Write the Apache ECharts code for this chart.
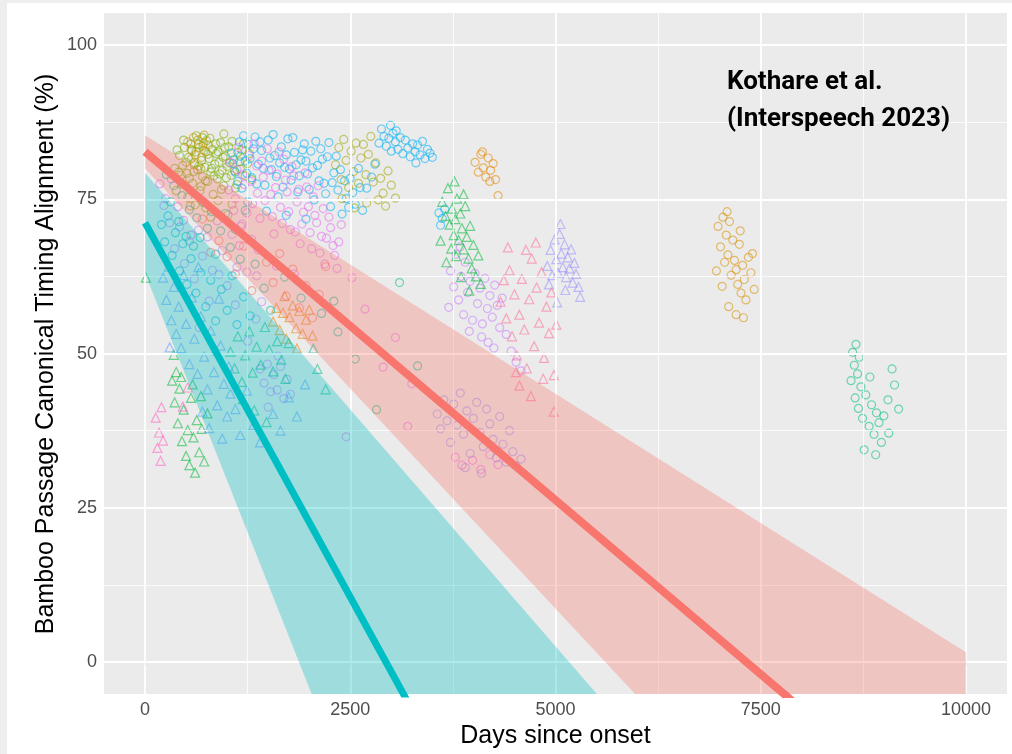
<!DOCTYPE html>
<html>
<head>
<meta charset="utf-8">
<script src="https://cdn.jsdelivr.net/npm/echarts@6/dist/echarts.min.js"></script>
<style>
  html, body { margin: 0; padding: 0; background: #fff; }
  #frame { position: absolute; left: 0; top: 0; width: 1012px; height: 754px; background: #eeeeee; }
  #chart { position: absolute; left: 7px; top: 3px; width: 1005px; height: 751px; background: #fff; }
</style>
</head>
<body>
<div id="frame"></div>
<div id="chart"></div>
<script>
// tick labels
var xTicks = [0, 2500, 5000, 7500, 10000];
var xMinor = [1250, 3750, 6250, 8750];
var yTicks = [0, 25, 50, 75, 100];
var yMinor = [12.5, 37.5, 62.5, 87.5];

// regression fits [days, %]
var redFit = [[0, 82.7], [10000, -30.2]];
var tealFit = [[0, 71.2], [6000, -74.4]];
// ribbons: [days, lower, upper]
var redRibbon = [[0, 80.0, 85.4], [10000, -62.7, 1.6]];
var tealRibbon = [[0, 63.0, 79.3], [6000, -138.6, -12.8]];

// points by speaker colour, [days since onset, alignment %]
var greenCircles = [[420,82.1],[460,80.5],[480,83.4],[510,79.2],[530,81.8],[560,84.0],[580,77.6],[600,80.9],[620,82.7],[640,79.8],[650,83.9],[670,76.4],[690,81.3],[700,78.7],[720,82.9],[730,80.2],[750,84.5],[760,77.9],[780,81.6],[800,79.4],[820,83.1],[830,75.8],[850,80.7],[870,82.4],[880,78.3],[900,81.0],[920,84.2],[940,79.7],[960,77.2],[980,82.0],[1000,80.3],[1020,83.5],[1050,78.9],[1080,81.4],[1100,76.8],[1130,82.6],[1160,79.9],[450,77.5],[520,75.3],[610,74.1],[740,73.6],[890,74.8],[1010,72.5],[360,80.0],[390,83.0],[700,85.0],[960,85.6],[1200,84.0],[1250,80.8],[1300,78.2],[440,78.9],[470,84.6],[500,81.0],[540,78.4],[570,82.9],[595,79.5],[625,85.3],[655,80.4],[680,77.1],[705,83.6],[735,78.0],[765,82.3],[790,84.9],[810,80.0],[840,78.8],[860,84.0],[890,82.7],[910,79.1],[930,76.6],[950,81.8],[970,83.4],[990,78.5],[1030,80.9],[1060,84.4],[1090,79.6],[1120,77.4],[1150,81.1],[1180,83.0],[1220,78.8],[1270,82.4],[380,76.4],[410,79.4],[550,73.9],[800,72.1],[1060,74.2]];
var goldCircles = [[520,84.3],[560,83.1],[590,85.0],[610,82.2],[640,84.6],[660,83.4],[690,81.8],[710,84.1],[740,82.7],[770,83.8],[600,80.6],[680,79.9],[560,81.5],[720,85.4]];
var skyCircles = [[1050,82.5],[1100,79.4],[1150,84.3],[1180,76.8],[1220,81.2],[1260,83.9],[1300,78.5],[1340,85.1],[1380,80.7],[1420,82.9],[1460,77.3],[1500,84.6],[1540,79.8],[1580,82.1],[1620,75.4],[1660,83.5],[1700,80.2],[1740,84.8],[1780,78.1],[1820,82.6],[1860,76.2],[1900,81.4],[1940,84.0],[1980,79.1],[2020,82.8],[2060,74.9],[2100,80.5],[2140,83.2],[2180,77.6],[2220,81.9],[2260,73.8],[2300,79.3],[2350,76.5],[2400,72.6],[2450,75.1],[2500,78.4],[2560,74.2],[2620,76.9],[1480,73.1],[1720,72.4],[1960,71.8],[1250,74.6],[2850,84.1],[2880,86.4],[2910,85.2],[2940,83.6],[2970,84.9],[3000,82.8],[3020,85.7],[3050,84.3],[3080,83.1],[3110,85.0],[3140,82.4],[3170,84.6],[3200,83.3],[3230,81.9],[3260,84.0],[3290,82.7],[3320,83.8],[3350,82.2],[3380,84.4],[3410,81.6],[3440,83.1],[3470,82.5],[3500,81.8],[2990,87.0],[3060,86.1],[3300,80.9],[2800,80.7],[2760,78.6],[2700,76.8],[3580,72.8],[3620,71.9],[3650,73.4],[3600,70.8],[1070,80.8],[1130,77.9],[1160,82.0],[1200,85.3],[1240,79.2],[1280,81.6],[1320,83.2],[1360,77.5],[1400,84.3],[1440,80.0],[1520,81.7],[1560,85.5],[1600,78.7],[1640,80.9],[1680,77.0],[1720,82.2],[1760,79.9],[1800,85.0],[1840,80.6],[1880,78.8],[1920,83.0],[1960,81.2],[2000,76.6],[2040,80.1],[2080,84.4],[2120,78.0],[2160,81.5],[2200,75.9],[2240,84.2],[2280,77.7],[2330,82.0],[2380,79.8],[2430,78.0],[2480,73.7],[2530,76.1],[2600,80.0],[2650,73.2]];
var oliveCircles = [[2320,80.6],[2360,83.4],[2390,78.2],[2420,84.7],[2450,81.3],[2480,76.9],[2510,82.8],[2540,79.5],[2570,84.1],[2600,77.6],[2630,81.7],[2660,83.9],[2690,79.0],[2720,82.3],[2750,85.2],[2780,77.8],[2810,80.9],[2840,74.9],[2870,78.4],[2900,76.0],[2930,73.9],[2960,79.6],[2400,75.1],[2550,73.6],[2700,74.4],[3000,77.3],[3050,75.2]];
var magentaCircles = [[1020,76.5],[1080,73.2],[1120,79.8],[1170,70.6],[1210,77.4],[1270,82.1],[1310,74.3],[1360,80.4],[1400,71.9],[1440,78.6],[1490,83.2],[1530,75.8],[1570,69.4],[1610,79.1],[1650,73.7],[1690,81.5],[1730,76.2],[1770,70.1],[1810,78.8],[1850,74.6],[1890,67.8],[1930,72.9],[1970,77.0],[2010,69.6],[2050,75.4],[2090,71.2],[2130,66.3],[2170,73.5],[2210,68.7],[2260,70.4],[2310,65.9],[2360,68.1],[1380,66.8],[1600,64.2],[1820,62.9],[1150,67.5],[180,77.5],[250,75.1],[320,78.3],[400,73.8],[470,71.6],[560,69.2],[3780,33.2],[3860,31.9],[3990,32.7],[4090,31.2],[4200,33.6],[4300,32.0],[2450,36.5],[2520,62.3],[2680,57.2],[2900,47.8],[3050,52.6],[3250,45.1],[3200,38.2],[1040,81.0],[1100,75.1],[1140,83.4],[1190,79.0],[1240,72.8],[1290,77.9],[1330,84.0],[1370,76.0],[1420,81.2],[1460,74.8],[1510,79.7],[1550,72.2],[1590,76.9],[1630,82.7],[1670,71.1],[1710,78.1],[1750,73.0],[1790,80.3],[1830,69.7],[1870,76.6],[1910,71.0],[1950,79.3],[1990,73.8],[2030,67.0],[2070,72.4],[2110,77.2],[2150,69.0],[2190,64.5],[2240,72.1],[2290,67.5],[2340,63.8],[2390,70.9]];
var purpleCircles = [[3720,63.4],[3760,60.8],[3790,66.1],[3820,58.7],[3850,62.5],[3880,56.3],[3900,64.8],[3930,59.9],[3960,61.7],[3990,55.4],[4020,63.0],[4050,58.1],[4080,60.6],[4110,54.8],[4140,62.2],[4170,57.3],[4200,59.4],[4230,55.9],[4260,61.1],[4290,57.8],[4320,54.2],[4350,59.0],[3840,67.3],[3950,53.6],[4100,52.7],[4180,51.8],[4250,50.9],[3700,57.5],[4400,53.1],[4460,50.4],[4520,48.6],[4580,47.2],[1400,47.5],[1450,45.2],[1490,48.3],[1530,43.8],[1570,46.6],[1610,44.1],[1650,47.9],[1690,42.7],[1730,45.8],[1770,43.4],[1500,41.3],[1620,49.6]];
var violetCircles = [[230,74.0],[300,71.2],[360,67.0],[420,70.5],[480,64.6],[540,68.2],[600,62.1],[650,70.0],[700,65.8],[760,68.9],[820,63.5],[880,71.5],[940,66.7],[1000,61.0],[1060,69.3],[1120,64.0],[1180,71.0],[1240,63.2],[1300,68.5],[1360,62.6],[1420,58.4],[1250,52.0],[1350,55.6],[1100,57.9],[900,62.8],[780,58.5],[660,54.2]];
var lavenderCircles = [[3560,40.2],[3600,37.8],[3640,42.5],[3680,39.1],[3720,35.6],[3760,41.8],[3800,38.4],[3840,43.6],[3880,36.9],[3920,40.7],[3960,33.8],[4000,39.5],[4040,42.1],[4080,37.2],[4120,34.9],[4160,41.0],[4200,38.6],[4240,36.1],[4280,33.1],[4320,39.8],[4360,35.3],[4400,32.4],[4440,37.5],[4480,34.1],[4520,31.8],[4580,32.9],[3900,31.5],[4100,30.6]];
var lavenderTriangles = [[4900,64.2],[4940,66.8],[4960,62.7],[4990,68.5],[5010,65.3],[5030,63.1],[5050,69.4],[5070,66.2],[5090,64.0],[5110,67.7],[5130,62.4],[5150,65.6],[5170,63.8],[5190,66.9],[5210,61.5],[5230,64.7],[5250,62.9],[5280,60.8],[4920,61.2],[5060,71.0],[5120,60.3],[5300,59.2],[5020,58.3]];
var greenTriangles = [[3620,74.6],[3660,72.3],[3690,76.8],[3710,70.9],[3740,73.5],[3760,69.2],[3780,71.8],[3800,75.1],[3820,68.4],[3840,72.7],[3860,70.3],[3880,66.9],[3900,73.9],[3920,68.9],[3940,65.4],[3960,70.7],[3980,63.8],[4000,67.6],[4030,62.5],[4060,65.9],[4090,61.3],[3730,67.0],[3790,65.8],[3850,62.4],[3950,60.2],[3670,64.8],[3600,68.3],[3770,77.9],[3880,75.8],[330,45.6],[360,42.1],[380,47.0],[400,38.7],[420,44.3],[450,35.8],[470,40.9],[500,33.4],[520,37.6],[540,31.9],[560,42.8],[590,36.4],[610,30.7],[630,39.2],[660,34.0],[690,37.8],[720,32.5],[350,49.8],[440,46.2],[580,45.0],[680,43.1],[760,40.3],[10,62.3]];
var pinkTriangles = [[130,39.6],[150,34.7],[170,37.2],[200,41.3],[220,35.9],[190,32.6],[520,44.5],[460,41.4]];
var roseTriangles = [[4330,58.4],[4370,61.9],[4400,55.7],[4440,63.5],[4470,52.8],[4500,59.6],[4530,49.7],[4560,56.3],[4590,62.1],[4620,53.9],[4650,47.6],[4680,58.8],[4710,65.4],[4740,51.2],[4770,60.7],[4800,55.0],[4830,63.2],[4860,49.3],[4890,57.6],[4920,53.3],[4950,59.9],[4980,46.5],[5010,54.7],[4560,44.8],[4700,43.1],[4850,45.9],[4980,40.6],[4420,67.2],[4640,66.8],[4760,68.0],[4520,47.0]];
var orangeCircles = [[4020,81.0],[4060,79.4],[4090,82.3],[4120,80.1],[4150,78.6],[4180,81.7],[4210,79.7],[4240,80.8],[4270,78.2],[4110,82.7],[4200,77.9],[4300,75.6]];
var orangeTriangles = [[1560,55.2],[1600,57.4],[1640,53.8],[1680,56.6],[1720,52.4],[1760,55.9],[1800,57.8],[1840,54.1],[1880,56.9],[1920,53.2],[1960,55.5],[2000,57.1],[2040,52.9],[1700,59.3],[1850,50.8]];
var ochreCircles = [[6980,70.6],[7010,67.3],[7040,72.1],[7060,64.8],[7080,69.2],[7100,66.0],[7120,71.4],[7140,62.7],[7160,68.4],[7180,65.1],[7200,63.6],[7220,61.2],[7240,67.7],[7260,59.8],[7280,64.3],[7300,62.0],[7320,58.7],[7350,65.6],[7380,63.1],[7420,60.4],[7030,60.9],[7110,57.6],[7200,56.3],[7290,55.8],[6960,63.4],[7090,73.0],[7400,66.2],[7250,69.9]];
var jadeCircles = [[8620,50.2],[8640,48.1],[8660,51.5],[8680,46.7],[8700,49.4],[8720,44.6],[8650,42.8],[8690,41.1],[8740,39.5],[8780,43.3],[8820,38.2],[8850,41.7],[8880,36.9],[8910,40.4],[8940,38.8],[8970,35.6],[9000,39.9],[9050,42.5],[8760,34.4],[8900,33.6],[9100,47.5],[9130,44.9],[9180,41.0],[8600,45.6],[8830,46.2],[9060,37.1],[2300,58.5],[2560,49.1],[2820,40.9],[3100,61.5],[3320,48.0]];
var tealCircles = [[260,79.0],[310,74.6],[350,77.2],[410,71.4],[450,75.6],[500,69.0],[540,73.3],[590,67.4],[630,72.0],[670,68.8],[710,74.5],[760,70.3],[810,73.0],[860,66.1],[920,69.9],[980,72.7],[1040,67.2],[1100,70.1],[1160,65.3],[1220,73.2],[1340,64.5],[1450,60.6],[1530,57.0],[1700,62.4],[1900,59.0],[2150,56.5],[2350,53.5]];
var jadeTriangles = [[1040,50.3],[1090,47.6],[1130,52.8],[1180,45.4],[1220,49.7],[1270,53.6],[1310,46.9],[1360,51.1],[1410,48.2],[1460,54.3],[1510,50.6],[1560,47.1],[1610,52.0],[1660,49.0],[1710,45.9],[1190,42.6],[1330,40.8],[1480,38.9],[1750,51.7],[2100,47.5],[2200,44.2],[2050,50.8]];
var blueTriangles = [[220,62.3],[260,58.7],[290,64.1],[320,55.4],[350,60.8],[380,53.2],[410,57.6],[440,50.9],[470,62.7],[500,54.8],[540,48.3],[570,59.1],[600,52.4],[640,46.7],[680,56.0],[720,49.5],[760,44.2],[800,53.7],[840,47.0],[880,41.6],[920,51.3],[960,45.1],[1000,39.8],[1040,43.5],[650,64.0],[900,58.9],[300,51.0],[700,40.6],[780,37.9],[860,50.5],[940,36.2],[1020,47.9],[1100,41.0],[1160,36.8],[1240,44.0],[1320,38.4],[1400,35.6],[1560,40.2],[1650,37.5],[1750,42.9],[1850,39.8],[1950,45.0]];
var cyanCircles = [[200,70.9],[240,68.1],[280,72.3],[330,65.9],[370,69.6],[420,63.4],[460,67.8],[510,61.2],[560,65.4],[620,59.8],[680,63.1],[740,57.6],[800,61.9],[860,55.3],[930,60.4],[1000,57.0],[1060,62.6],[1120,54.7],[1200,59.2],[1280,56.1]];
var salmonCircles = [[1480,64.8],[1560,61.5],[1640,66.2],[1720,59.3],[1800,63.7],[1880,57.4],[1960,61.0],[2040,55.8],[2120,59.6],[2200,64.1],[900,68.3],[1000,65.7],[1100,62.9],[1200,67.4],[1300,60.2],[700,71.8],[800,66.4]];

var groups = [
  ['#7CAE00', 'circle', greenCircles],
  ['#C99800', 'circle', goldCircles],
  ['#00B0F6', 'circle', skyCircles],
  ['#A3A500', 'circle', oliveCircles],
  ['#E76BF3', 'circle', magentaCircles],
  ['#C77CFF', 'circle', purpleCircles],
  ['#B983FF', 'circle', violetCircles],
  ['#9590FF', 'circle', lavenderCircles],
  ['#9590FF', 'triangle', lavenderTriangles],
  ['#00BA38', 'triangle', greenTriangles],
  ['#FF61C3', 'triangle', pinkTriangles],
  ['#FF6C91', 'triangle', roseTriangles],
  ['#E58700', 'circle', orangeCircles],
  ['#E58700', 'triangle', orangeTriangles],
  ['#D89000', 'circle', ochreCircles],
  ['#00BF7D', 'circle', jadeCircles],
  ['#00C1A3', 'circle', tealCircles],
  ['#00C08B', 'triangle', jadeTriangles],
  ['#619CFF', 'triangle', blueTriangles],
  ['#00BCD8', 'circle', cyanCircles],
  ['#F8766D', 'circle', salmonCircles]
];

var chart = echarts.init(document.getElementById('chart'));

function gridLines(axis, vals, width) {
  return vals.map(function (v) {
    var o = {lineStyle: {width: width}};
    o[axis] = v;
    return o;
  });
}

function ribbon(rows, color) {
  return {
    type: 'custom',
    clip: true,
    z: 5,
    silent: true,
    data: [0],
    renderItem: function (params, api) {
      var top = rows.map(function (r) { return api.coord([r[0], r[2]]); });
      var bottom = rows.slice().reverse().map(function (r) { return api.coord([r[0], r[1]]); });
      return {
        type: 'polygon',
        shape: {points: top.concat(bottom)},
        style: {fill: color, opacity: 0.32}
      };
    }
  };
}

var series = [{
  type: 'line', data: [], z: 1, silent: true,
  markLine: {
    silent: true, symbol: 'none', animation: false,
    label: {show: false},
    lineStyle: {color: '#ffffff', type: 'solid'},
    data: gridLines('xAxis', xMinor, 0.8).concat(gridLines('yAxis', yMinor, 0.8))
      .concat(gridLines('xAxis', xTicks, 1.8)).concat(gridLines('yAxis', yTicks, 1.8))
  }
}];

groups.forEach(function (g) {
  series.push({
    type: 'scatter', z: 3,
    symbol: g[1],
    symbolSize: g[1] === 'triangle' ? 9 : 8,
    itemStyle: {color: 'rgba(0,0,0,0)', borderColor: g[0], borderWidth: 1.2, opacity: 0.55},
    data: g[2]
  });
});

series.push(ribbon(tealRibbon, '#00BFC4'));
series.push(ribbon(redRibbon, '#F8766D'));
series.push({type: 'line', z: 6, data: tealFit, symbol: 'none', lineStyle: {color: '#00BFC4', width: 7}});
series.push({type: 'line', z: 6, data: redFit, symbol: 'none', lineStyle: {color: '#F8766D', width: 8}});

var tickLabel = {color: '#4D4D4D', fontSize: 18, fontFamily: 'Liberation Sans, Arial, sans-serif'};

chart.setOption({
  animation: false,
  backgroundColor: '#ffffff',
  title: {
    text: 'Kothare et al.\n(Interspeech 2023)',
    left: 715, top: 56,
    textStyle: {color: '#000', fontSize: 26, fontWeight: 'bold', lineHeight: 37,
      fontFamily: 'Roboto, "Noto Sans", sans-serif'}
  },
  grid: {left: 97, right: 5, top: 10, bottom: 59, show: true, backgroundColor: '#EBEBEB', borderWidth: 0},
  xAxis: {
    type: 'value', min: -500, max: 10500,
    axisLine: {show: false},
    splitLine: {show: false},
    axisTick: {show: true, customValues: xTicks, length: 4, lineStyle: {color: '#333333'}},
    axisLabel: Object.assign({customValues: xTicks, margin: 7, formatter: function (v) { return String(v); }}, tickLabel),
    name: 'Days since onset', nameLocation: 'middle', nameGap: 26,
    nameTextStyle: {color: '#000', fontSize: 25, fontFamily: 'Liberation Sans, Arial, sans-serif'}
  },
  yAxis: {
    type: 'value', min: -5.2, max: 105.2,
    axisLine: {show: false},
    splitLine: {show: false},
    axisTick: {show: true, customValues: yTicks, length: 4, lineStyle: {color: '#333333'}},
    axisLabel: Object.assign({customValues: yTicks, margin: 7, formatter: function (v) { return String(v); }}, tickLabel)
  },
  graphic: [
    {type: 'text', x: 39, y: 351, rotation: Math.PI / 2,
      style: {text: 'Bamboo Passage Canonical Timing Alignment (%)', fill: '#000', fontSize: 25,
        fontFamily: 'Liberation Sans, Arial, sans-serif', align: 'center', verticalAlign: 'middle'}}
  ],
  series: series
});
</script>
</body>
</html>
